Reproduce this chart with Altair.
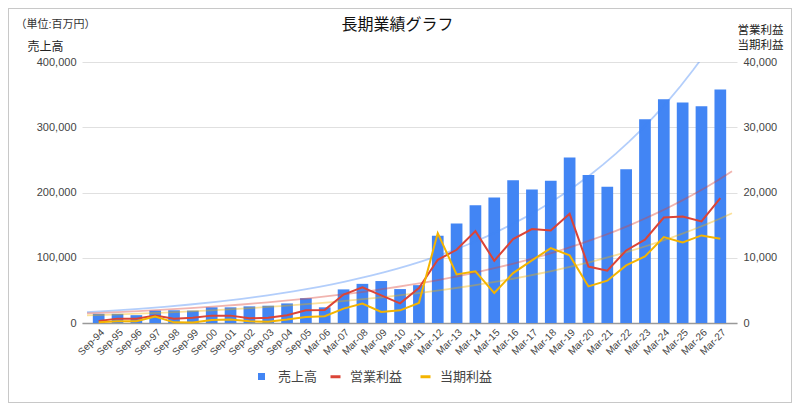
import altair as alt
import pandas as pd

periods = ["Sep-94", "Sep-95", "Sep-96", "Sep-97", "Sep-98", "Sep-99", "Sep-00", "Sep-01",
           "Sep-02", "Sep-03", "Sep-04", "Sep-05", "Mar-06", "Mar-07", "Mar-08", "Mar-09",
           "Mar-10", "Mar-11", "Mar-12", "Mar-13", "Mar-14", "Mar-15", "Mar-16", "Mar-17",
           "Mar-18", "Mar-19", "Mar-20", "Mar-21", "Mar-22", "Mar-23", "Mar-24", "Mar-25",
           "Mar-26", "Mar-27"]
sales = [14000, 14000, 12000, 19000, 19500, 19000, 24000, 24000, 25500, 26500, 30000, 38000,
         24000, 51500, 60000, 64300, 52000, 58000, 133700, 152600, 180600, 192300, 218900,
         204600, 217900, 253600, 227000, 208700, 235700, 312200, 342900, 337800, 332100, 357700]
op_profit = [300, 670, 670, 1130, 670, 820, 1130, 1130, 720, 820, 1190, 1960, 2010, 4360, 5480,
             4230, 3010, 5360, 9690, 11220, 14080, 9540, 12860, 14390, 14180, 16730, 8650, 8010,
             11120, 12760, 16170, 16330, 15560, 19130]
net_profit = [100, 260, 260, 980, 100, 60, 460, 520, 260, 200, 520, 930, 1030, 2200, 2970, 1680,
              1940, 3060, 13780, 7450, 7910, 4590, 7650, 9590, 11480, 10360, 5610, 6480, 8830,
              10200, 13160, 12350, 13420, 12910]
series_names = ["売上高", "営業利益", "当期利益"]
y_left_ticks = [0, 100000, 200000, 300000, 400000]
y_right_ticks = [0, 10000, 20000, 30000, 40000]

BLUE, RED, YELLOW = "#4285F4", "#DB4437", "#F4B400"
FONT = "'Liberation Sans', 'Noto Sans CJK JP', sans-serif"

n = len(periods)
idx = list(range(n))
bars_df = pd.DataFrame({"idx": idx, "sales": sales, "s": [series_names[0]] * n})
lines_df = pd.DataFrame({
    "idx": idx * 2,
    "value": op_profit + net_profit,
    "series": [series_names[1]] * n + [series_names[2]] * n,
})

xdom = [-0.62, n - 1 + 0.62]
label_expr = "[" + ",".join("'" + p + "'" for p in periods) + "][datum.value]"
xscale = alt.Scale(domain=xdom, nice=False, zero=False)
num_expr = "format(datum.value, ',')"

x_axis = alt.Axis(values=idx, labelExpr=label_expr, labelAngle=-45, labelOverlap=False,
                  labelBound=False, labelFontSize=10, labelColor="#444", labelPadding=4,
                  labelAlign="right", labelBaseline="top",
                  ticks=False, grid=False, domainColor="#999", domainWidth=1.5,
                  title="（単位:百万円）", titleAngle=0, titleAlign="left", titleBaseline="middle",
                  titleX=-67, titleY=-298.5, titleFontSize=11, titleFontWeight="normal",
                  titleColor="#333")
x_enc = alt.X("idx:Q", scale=xscale, axis=x_axis)

left_scale = alt.Scale(domain=[0, 400000], nice=False)
right_scale = alt.Scale(domain=[0, 40000], nice=False)

left_axis = alt.Axis(values=y_left_ticks, labelExpr=num_expr, orient="left", ticks=False,
                     domain=False, labelFontSize=11, labelColor="#444", labelPadding=6,
                     grid=True, gridColor="#e0e0e0", title="売上高", titleAngle=0,
                     titleAlign="left", titleBaseline="middle", titleX=-55, titleY=-16,
                     titleFontSize=12, titleFontWeight="normal", titleColor="#222")
right_axis = alt.Axis(values=y_right_ticks, labelExpr=num_expr, orient="right", ticks=False,
                      domain=False, grid=False, labelFontSize=11, labelColor="#444",
                      labelPadding=6, title=[series_names[1], series_names[2]],
                      titleAngle=0, titleAlign="left", titleBaseline="top",
                      titleX=0, titleY=-38, titleLineHeight=15, titleFontSize=11.5,
                      titleFontWeight="normal", titleColor="#222")

bars = alt.Chart(bars_df).mark_bar(size=11.7).encode(
    x=x_enc,
    y=alt.Y("sales:Q", scale=left_scale, axis=left_axis),
    color=alt.Color("s:N", scale=alt.Scale(domain=[series_names[0]], range=[BLUE]),
                    legend=alt.Legend(orient="none", legendX=173, legendY=308, title=None,
                                      symbolType="square", symbolSize=49, labelFontSize=13,
                                      labelColor="#444", labelOffset=10, padding=0,
                                      direction="horizontal")),
)

blue_trend = alt.Chart(bars_df).transform_regression(
    "idx", "sales", method="exp", extent=xdom
).mark_line(color=BLUE, opacity=0.4, strokeWidth=1.8, clip=True).encode(
    x=x_enc,
    y=alt.Y("sales:Q", scale=left_scale, axis=left_axis),
)

frame = alt.Chart(bars_df).mark_rect(fill=None, stroke="#c8c8c8", strokeWidth=1).encode(
    x=alt.value(-73.5), x2=alt.value(709.5), y=alt.value(-53.5), y2=alt.value(340.5)
)

left = alt.layer(frame, bars, blue_trend)

red_trend = alt.Chart(lines_df).transform_filter(
    alt.datum.series == series_names[1]
).transform_regression("idx", "value", method="exp", extent=xdom).mark_line(
    color=RED, opacity=0.4, strokeWidth=1.8, clip=True
).encode(x=x_enc, y=alt.Y("value:Q", scale=right_scale, axis=right_axis))

yellow_trend = alt.Chart(lines_df).transform_filter(
    alt.datum.series == series_names[2]
).transform_regression("idx", "value", method="exp", extent=xdom).mark_line(
    color=YELLOW, opacity=0.4, strokeWidth=1.8, clip=True
).encode(x=x_enc, y=alt.Y("value:Q", scale=right_scale, axis=right_axis))

lines = alt.Chart(lines_df).mark_line(strokeWidth=2).encode(
    x=x_enc,
    y=alt.Y("value:Q", scale=right_scale, axis=right_axis),
    color=alt.Color("series:N", scale=alt.Scale(domain=series_names[1:], range=[RED, YELLOW]),
                    legend=alt.Legend(orient="none", legendX=247, legendY=308, title=None,
                                      symbolType="stroke", symbolSize=100,
                                      symbolStrokeWidth=3, labelFontSize=13,
                                      labelColor="#444", labelOffset=8, columnPadding=11,
                                      padding=0, direction="horizontal")),
)

right = alt.layer(red_trend, yellow_trend, lines)

chart = alt.layer(left, right).resolve_scale(
    y="independent", color="independent"
).properties(
    width=655, height=261,
    title=alt.TitleParams("長期業績グラフ", fontSize=16, fontWeight="normal", color="#111",
                          anchor="middle", dx=-12, offset=-25),
    autosize=alt.AutoSizeParams(type="none"),
    padding={"left": 74, "top": 54, "right": 55, "bottom": 80},
).configure(font=FONT).configure_view(stroke=None)

chart.save("out.html", embed_options={"renderer": "svg", "actions": False})
